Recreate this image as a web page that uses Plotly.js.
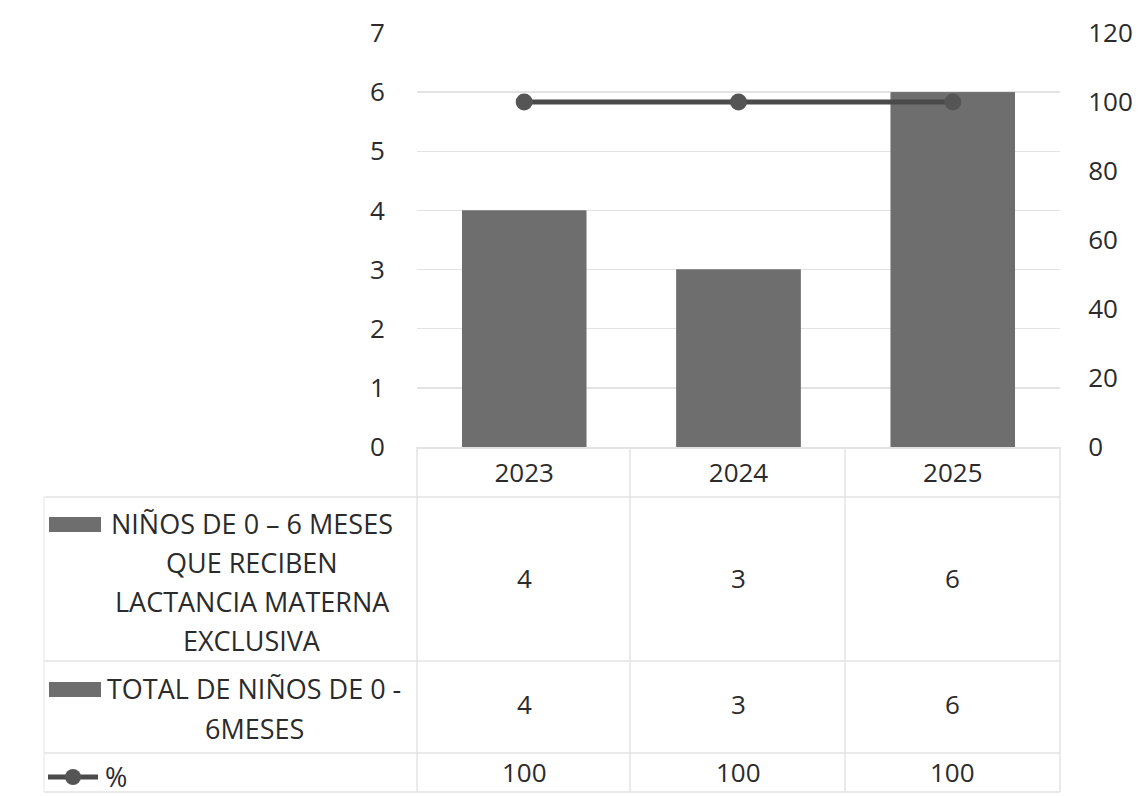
<!DOCTYPE html>
<html><head><meta charset="utf-8">
<script src="https://cdn.plot.ly/plotly-3.0.1.min.js"></script>
<style>html,body{margin:0;padding:0;background:#fff}#chart{width:1142px;height:796px}</style>
</head><body><div id="chart"></div>
<script>
const categories = ['2023', '2024', '2025'];
const seriesLabelLines = [
  ['NIÑOS DE 0 – 6 MESES', 'QUE RECIBEN', 'LACTANCIA MATERNA', 'EXCLUSIVA'],
  ['TOTAL DE NIÑOS DE 0 -', '6MESES'],
  ['%']
];
const lactancia = [4, 3, 6];
const totalNinos = [4, 3, 6];
const porcentaje = [100, 100, 100];
const leftTicks = [0, 1, 2, 3, 4, 5, 6, 7];
const rightTicks = [0, 20, 40, 60, 80, 100, 120];

const W = 1142, H = 796;
const L = 417, R = 1060, T = 33, B = 447;
const px = x => (x - L) / (R - L);
const py = y => (B - y) / (B - T);
const catPaperX = i => (i + 0.5) / categories.length;
const font = 'Open Sans, Noto Sans, sans-serif';
const txt = '#2b2b2b';
const gridC = '#e3e3e3';
const FS = 26;
const LFS = 27;

const traces = [
  {type: 'bar', x: categories, y: totalNinos, width: 0.58,
   marker: {color: '#747474'}, hoverinfo: 'skip'},
  {type: 'bar', x: categories, y: lactancia, width: 0.58,
   marker: {color: '#6e6e6e'}, hoverinfo: 'skip'},
  {type: 'scatter', mode: 'lines+markers', x: categories, y: porcentaje, yaxis: 'y2',
   line: {color: '#4a4a4a', width: 5}, marker: {color: '#555555', size: 17}, hoverinfo: 'skip'}
];

const shapes = [];
const annotations = [];
const colX = [L, 630, 845, R];
[497, 661, 753, 792].forEach(y => shapes.push({type: 'line', xref: 'paper', yref: 'paper',
  x0: px(44), x1: px(R), y0: py(y), y1: py(y), line: {color: gridC, width: 1.5}}));
colX.forEach(x => shapes.push({type: 'line', xref: 'paper', yref: 'paper',
  x0: px(x), x1: px(x), y0: py(B), y1: py(792), line: {color: gridC, width: 1.5}}));
shapes.push({type: 'line', xref: 'paper', yref: 'paper', x0: px(44), x1: px(44), y0: py(497), y1: py(792), line: {color: '#eeeeee', width: 1.5}});

// legend keys
[524, 689].forEach(y => shapes.push({type: 'rect', xref: 'paper', yref: 'paper',
  x0: px(49), x1: px(101), y0: py(y + 8), y1: py(y - 7), fillcolor: '#6e6e6e', line: {width: 0}}));
shapes.push({type: 'line', xref: 'paper', yref: 'paper', x0: px(48), x1: px(98), y0: py(777), y1: py(777), line: {color: '#4a4a4a', width: 5}});
shapes.push({type: 'circle', xref: 'paper', yref: 'paper', x0: px(65), x1: px(81), y0: py(785), y1: py(769), fillcolor: '#555555', line: {width: 0}});

// row labels (one annotation per line)
const labelPos = [
  {x: 252, y0: 523, dy: 39, anchor: 'center'},
  {x: 254, y0: 688, dy: 40, anchor: 'center'},
  {x: 103, y0: 776, dy: 0, anchor: 'left'}
];
seriesLabelLines.forEach((lines, r) => lines.forEach((t, k) => annotations.push({
  xref: 'paper', yref: 'paper', x: px(labelPos[r].x), y: py(labelPos[r].y0 + k * labelPos[r].dy),
  text: t, showarrow: false, font: {family: font, size: LFS, color: txt},
  xanchor: labelPos[r].anchor, yanchor: 'middle'})));

// values
const rows = [[lactancia, 578], [totalNinos, 704], [porcentaje, 772]];
rows.forEach(([vals, y]) => vals.forEach((v, i) => annotations.push({
  xref: 'paper', yref: 'paper', x: catPaperX(i), y: py(y), text: String(v), showarrow: false,
  font: {family: font, size: FS, color: txt}, xanchor: 'center', yanchor: 'middle'})));

const layout = {
  width: W, height: H,
  margin: {l: L, r: W - R, t: T, b: H - B, pad: 0},
  paper_bgcolor: '#ffffff', plot_bgcolor: '#ffffff',
  barmode: 'overlay', showlegend: false,
  xaxis: {type: 'category', range: [-0.5, 2.5], tickfont: {family: font, size: FS, color: txt},
    ticks: 'outside', ticklen: 2, tickcolor: 'rgba(0,0,0,0)', showgrid: false,
    showline: true, linecolor: gridC, linewidth: 1.5, zeroline: false},
  yaxis: {range: [0, 7], tickvals: leftTicks, tickfont: {family: font, size: FS, color: txt},
    ticks: 'outside', ticklen: 26, tickcolor: 'rgba(0,0,0,0)',
    showgrid: true, gridcolor: gridC, gridwidth: 1.5, zeroline: false, showline: false},
  yaxis2: {range: [0, 120], tickvals: rightTicks, overlaying: 'y', side: 'right',
    tickfont: {family: font, size: FS, color: txt},
    ticks: 'outside', ticklen: 22, tickcolor: 'rgba(0,0,0,0)',
    showgrid: false, zeroline: false, showline: false},
  shapes: shapes, annotations: annotations
};
Plotly.newPlot('chart', traces, layout, {displayModeBar: false, staticPlot: true});
</script></body></html>
